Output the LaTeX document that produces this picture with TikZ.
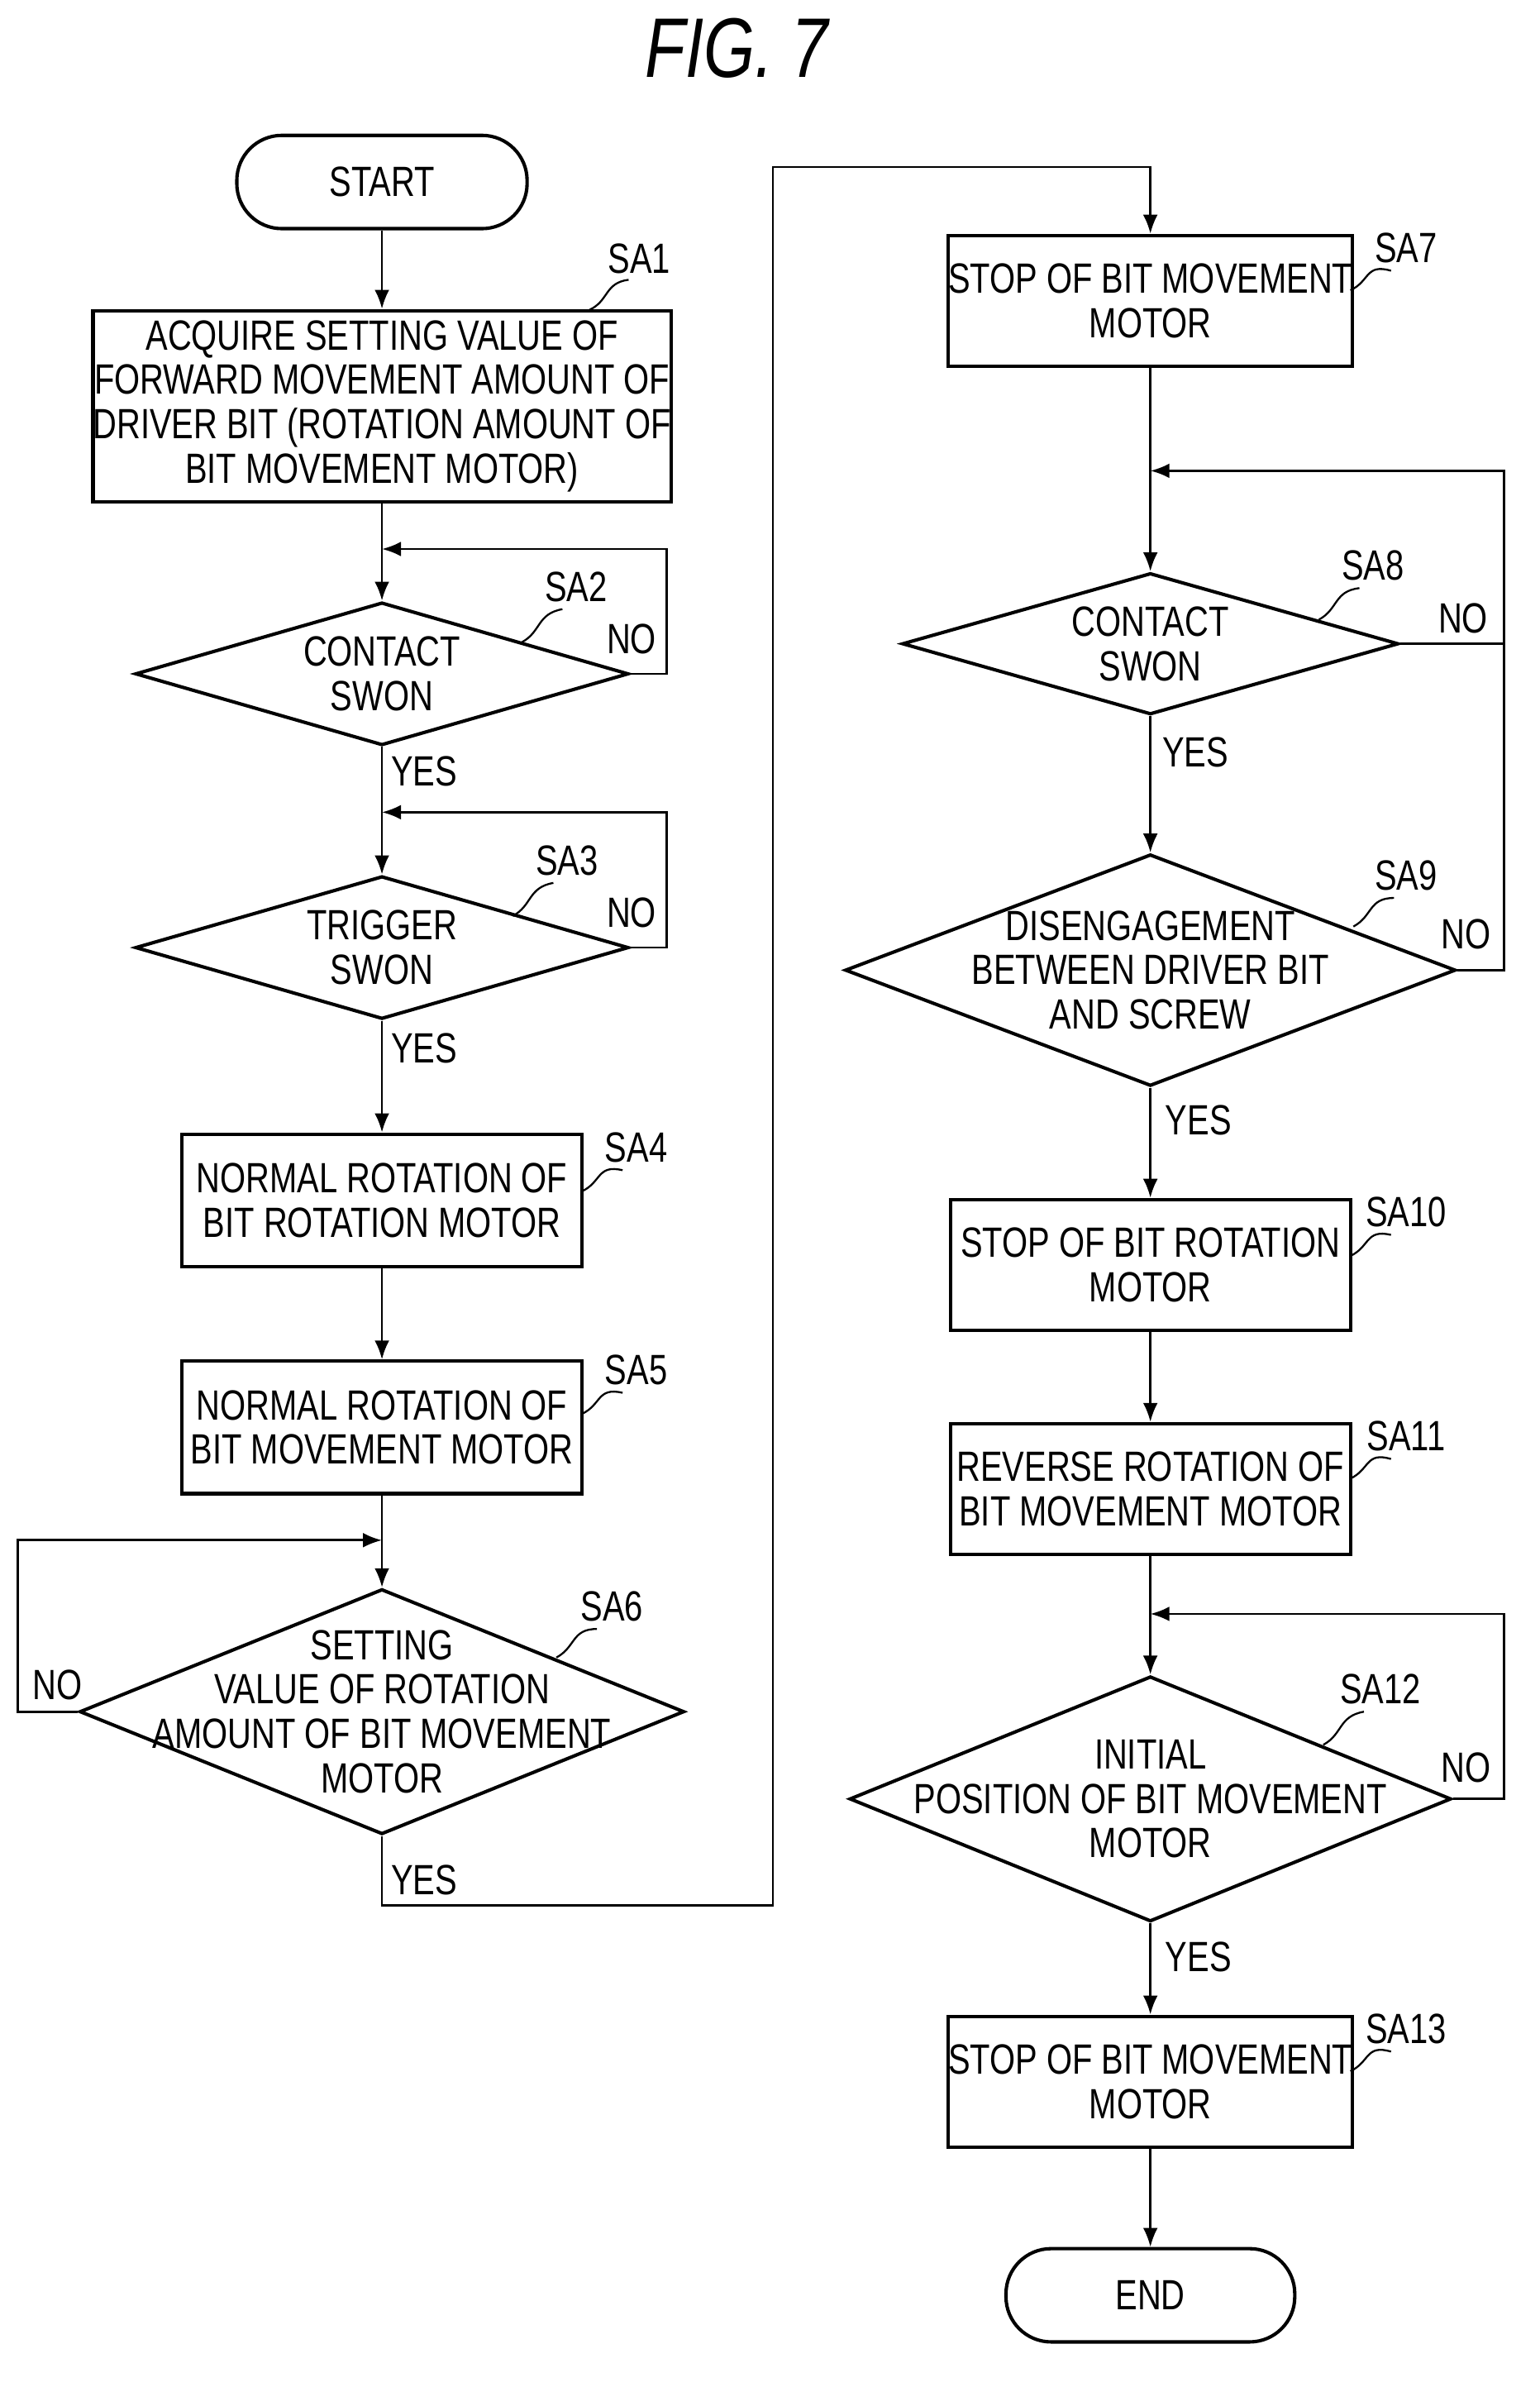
\documentclass[tikz,border=0pt]{standalone}
\usepackage{fontspec}
\setmainfont{Liberation Sans}[FakeStretch=0.78]
\usetikzlibrary{shapes.geometric,arrows.meta}
\begin{document}
\begin{tikzpicture}[x=0.025cm,y=-0.025cm,
  font=\fontsize{20}{21}\selectfont,
  box/.style={draw,line width=1.6pt,rectangle,align=center,inner sep=0pt},
  term/.style={draw,line width=1.6pt,rounded corners=0.75cm,align=center,inner sep=0pt},
  dia/.style={draw,line width=1.6pt,diamond,inner sep=0pt},
  txt/.style={align=center,inner sep=0pt},
  flow/.style={line width=1.1pt,-{Latex[length=9pt,width=7pt]}},
  line/.style={line width=1.1pt},
  sq/.style={line width=0.9pt}]
\useasboundingbox (0,0) rectangle (1024,1587);
\node[font=\fontsize{40}{44}\itshape] at (490,32) {FIG. 7};
% left column
\node[term,minimum width=4.825cm,minimum height=1.55cm] (start) at (254,121) {START};
\node[box,minimum width=9.475cm,minimum height=3.175cm] (sa1) at (254,270)
  {ACQUIRE SETTING VALUE OF\\FORWARD MOVEMENT AMOUNT OF\\DRIVER BIT (ROTATION AMOUNT OF\\BIT MOVEMENT MOTOR)};
\node[dia,minimum width=8.2cm,minimum height=2.375cm] (sa2) at (254,448) {};
\node[txt] at (sa2) {CONTACT\\SWON};
\node[dia,minimum width=8.2cm,minimum height=2.375cm] (sa3) at (254,630) {};
\node[txt] at (sa3) {TRIGGER\\SWON};
\node[box,minimum width=6.65cm,minimum height=2.2cm] (sa4) at (254,798) {NORMAL ROTATION OF\\BIT ROTATION MOTOR};
\node[box,minimum width=6.65cm,minimum height=2.2cm] (sa5) at (254,949) {NORMAL ROTATION OF\\BIT MOVEMENT MOTOR};
\node[dia,minimum width=10.05cm,minimum height=4.075cm] (sa6) at (254,1138) {};
\node[txt] at (sa6) {SETTING\\VALUE OF ROTATION\\AMOUNT OF BIT MOVEMENT\\MOTOR};
% right column
\node[box,minimum width=6.65cm,minimum height=2.175cm] (sa7) at (765,200) {STOP OF BIT MOVEMENT\\MOTOR};
\node[dia,minimum width=8.25cm,minimum height=2.35cm] (sa8) at (765,428) {};
\node[txt] at (sa8) {CONTACT\\SWON};
\node[dia,minimum width=10.15cm,minimum height=3.85cm] (sa9) at (765,645) {};
\node[txt] at (sa9) {DISENGAGEMENT\\BETWEEN DRIVER BIT\\AND SCREW};
\node[box,minimum width=6.65cm,minimum height=2.175cm] (sa10) at (765,841) {STOP OF BIT ROTATION\\MOTOR};
\node[box,minimum width=6.65cm,minimum height=2.175cm] (sa11) at (765,990) {REVERSE ROTATION OF\\BIT MOVEMENT MOTOR};
\node[dia,minimum width=10cm,minimum height=4.075cm] (sa12) at (765,1196) {};
\node[txt] at (sa12) {INITIAL\\POSITION OF BIT MOVEMENT\\MOTOR};
\node[box,minimum width=6.65cm,minimum height=2.175cm] (sa13) at (765,1384) {STOP OF BIT MOVEMENT\\MOTOR};
\node[term,minimum width=4.8cm,minimum height=1.55cm] (end) at (765,1526) {END};
% join points
\coordinate (j2) at (254,365);
\coordinate (j3) at (254,540);
\coordinate (j6) at (254,1024);
\coordinate (j8) at (765,313);
\coordinate (j12) at (765,1073);
% connectors
\draw[flow] (start) -- (sa1);
\draw[flow] (sa1) -- (sa2);
\draw[flow] (sa2) -- (sa3);
\draw[flow] (sa3) -- (sa4);
\draw[flow] (sa4) -- (sa5);
\draw[flow] (sa5) -- (sa6);
\draw[flow] (sa2.east) -- ++(24,0) |- (j2);
\draw[flow] (sa3.east) -- ++(24,0) |- (j3);
\draw[flow] (sa6.west) -- (12,1138) |- (j6);
\draw[flow] (sa6.south) -- (254,1267) -- (514,1267) -- (514,111) -| (sa7.north);
\draw[flow] (sa7) -- (sa8);
\draw[flow] (sa8) -- (sa9);
\draw[flow] (sa9) -- (sa10);
\draw[flow] (sa10) -- (sa11);
\draw[flow] (sa11) -- (sa12);
\draw[flow] (sa12) -- (sa13);
\draw[flow] (sa13) -- (end);
\draw[flow] (sa8.east) -- (1000,428) |- (j8);
\draw[line] (sa9.east) -- (1000,645) -- (1000,428);
\draw[flow] (sa12.east) -- (1000,1196) |- (j12);
% yes / no
\node at (282,513) {YES}; \node at (282,697) {YES}; \node at (282,1250) {YES};
\node at (795,500) {YES}; \node at (797,745) {YES}; \node at (797,1301) {YES};
\node at (420,425) {NO}; \node at (420,607) {NO}; \node at (38,1120) {NO};
\node at (973,411) {NO}; \node at (975,621) {NO}; \node at (975,1175) {NO};
% step tags
\node (t1) at (425,172) {SA1};
\draw[sq] (392,206) .. controls (405,200) and (402,188) .. (418,186);
\node (t2) at (383,390) {SA2};
\draw[sq] (347,427) .. controls (360,420) and (357,408) .. (374,405);
\node (t3) at (377,572) {SA3};
\draw[sq] (341,609) .. controls (354,602) and (351,590) .. (368,587);
\node (t4) at (423,763) {SA4};
\draw[sq] (387,792) .. controls (400,786) and (397,774) .. (414,778);
\node (t5) at (423,911) {SA5};
\draw[sq] (387,940) .. controls (400,934) and (397,922) .. (414,926);
\node (t6) at (407,1068) {SA6};
\draw[sq] (370,1102) .. controls (383,1095) and (380,1083) .. (397,1083);
\node (t7) at (935,165) {SA7};
\draw[sq] (898,193) .. controls (911,187) and (908,175) .. (925,180);
\node (t8) at (913,376) {SA8};
\draw[sq] (877,412) .. controls (890,405) and (887,393) .. (904,391);
\node (t9) at (935,582) {SA9};
\draw[sq] (900,616) .. controls (913,609) and (910,597) .. (927,597);
\node (t10) at (935,806) {SA10};
\draw[sq] (898,835) .. controls (911,829) and (908,817) .. (925,821);
\node (t11) at (935,955) {SA11};
\draw[sq] (898,983) .. controls (911,977) and (908,965) .. (925,970);
\node (t12) at (918,1123) {SA12};
\draw[sq] (880,1160) .. controls (893,1153) and (890,1141) .. (907,1138);
\node (t13) at (935,1349) {SA13};
\draw[sq] (898,1377) .. controls (911,1371) and (908,1359) .. (925,1364);
\end{tikzpicture}
\end{document}
